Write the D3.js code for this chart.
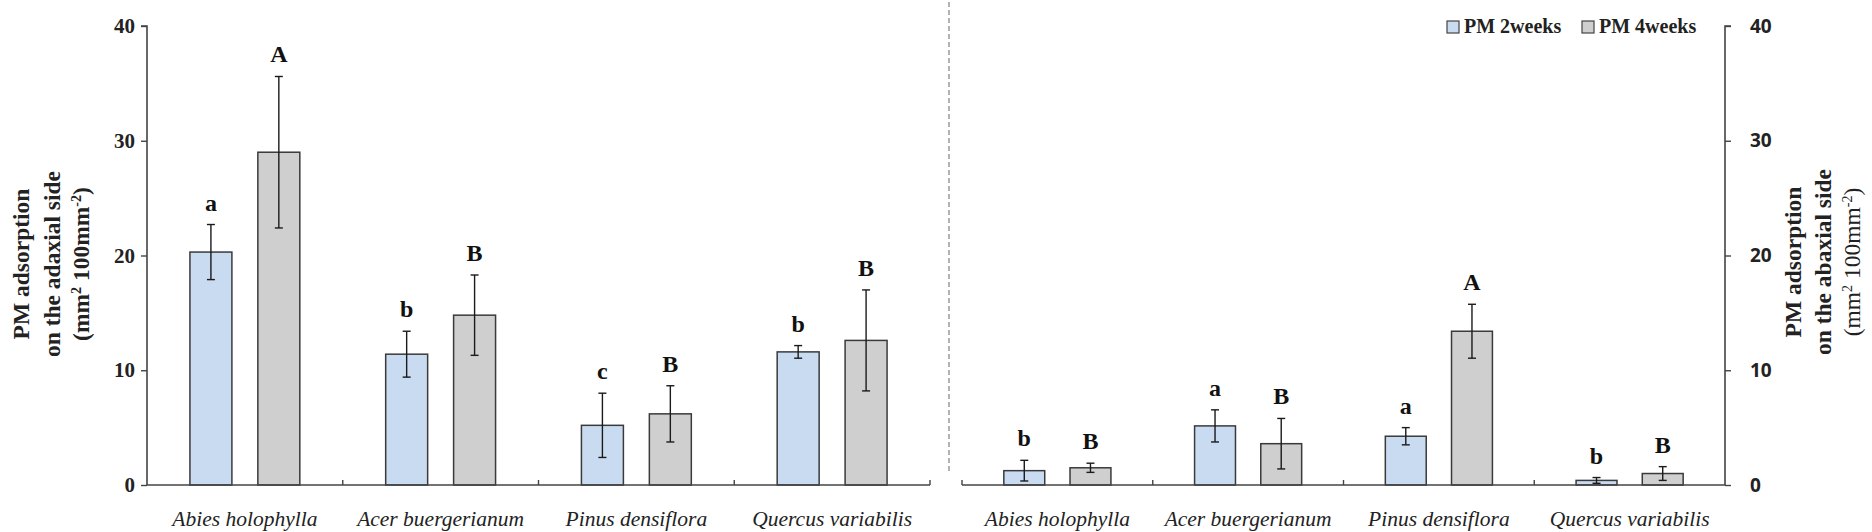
<!DOCTYPE html>
<html><head><meta charset="utf-8">
<script src="https://cdn.jsdelivr.net/npm/d3@7"></script>
<style>
html,body{margin:0;padding:0;background:#fff;}
svg{display:block;}
</style></head>
<body>
<svg id="chart" width="1872" height="532"></svg>
<script>
// ---- data ----
const categories = ["Abies holophylla", "Acer buergerianum", "Pinus densiflora", "Quercus variabilis"];
const seriesNames = ["PM 2weeks", "PM 4weeks"];
const yTicks = [0, 10, 20, 30, 40];

// adaxial side (left panel)
const adaxial2w = [20.3, 11.4, 5.2, 11.6];
const adaxial2wErr = [2.4, 2.0, 2.8, 0.55];
const adaxial4w = [29.0, 14.8, 6.2, 12.6];
const adaxial4wErr = [6.6, 3.5, 2.45, 4.4];
const adaxial2wLetters = ["a", "b", "c", "b"];
const adaxial4wLetters = ["A", "B", "B", "B"];

// abaxial side (right panel)
const abaxial2w = [1.25, 5.15, 4.25, 0.4];
const abaxial2wErr = [0.9, 1.4, 0.75, 0.25];
const abaxial4w = [1.5, 3.6, 13.4, 1.0];
const abaxial4wErr = [0.4, 2.2, 2.35, 0.6];
const abaxial2wLetters = ["b", "a", "a", "b"];
const abaxial4wLetters = ["B", "B", "A", "B"];

const colors = ["#c9dbf0", "#cfcfcf"];

// ---- drawing ----
const svg = d3.select("#chart");
const serif = "'Liberation Serif', 'Times New Roman', serif";
const sans = "'Open Sans', 'Liberation Sans', sans-serif";
const axisColor = "#444";

function panel(opts) {
  const g = svg.append("g");
  const x0 = d3.scaleBand().domain(categories).range(opts.xRange).paddingInner(0).paddingOuter(0);
  const x1 = d3.scaleBand().domain(seriesNames).range([0, x0.bandwidth()])
    .paddingInner(0.382).paddingOuter(0.632);
  const y = d3.scaleLinear().domain([0, 40]).range(opts.yRange);

  const rows = [];
  categories.forEach((c, i) => {
    rows.push({c, s: seriesNames[0], v: opts.v1[i], e: opts.e1[i], l: opts.l1[i], col: colors[0]});
    rows.push({c, s: seriesNames[1], v: opts.v2[i], e: opts.e2[i], l: opts.l2[i], col: colors[1]});
  });

  // bars
  g.selectAll("rect.bar").data(rows).join("rect")
    .attr("class", "bar")
    .attr("x", d => x0(d.c) + x1(d.s))
    .attr("width", x1.bandwidth())
    .attr("y", d => y(d.v))
    .attr("height", d => y(0) - y(d.v))
    .attr("fill", d => d.col)
    .attr("stroke", "#3a3a3a")
    .attr("stroke-width", 1.5);

  // error bars
  const cx = d => x0(d.c) + x1(d.s) + x1.bandwidth() / 2;
  const eg = g.selectAll("g.err").data(rows).join("g").attr("class", "err")
    .attr("stroke", "#1a1a1a").attr("stroke-width", 1.4);
  eg.append("line").attr("x1", cx).attr("x2", cx)
    .attr("y1", d => y(d.v + d.e)).attr("y2", d => y(Math.max(0, d.v - d.e)));
  eg.append("line").attr("x1", d => cx(d) - 4).attr("x2", d => cx(d) + 4)
    .attr("y1", d => y(d.v + d.e)).attr("y2", d => y(d.v + d.e));
  eg.append("line").attr("x1", d => cx(d) - 4).attr("x2", d => cx(d) + 4)
    .attr("y1", d => y(Math.max(0, d.v - d.e))).attr("y2", d => y(Math.max(0, d.v - d.e)));

  // significance letters
  g.selectAll("text.sig").data(rows).join("text")
    .attr("class", "sig")
    .attr("x", cx)
    .attr("y", d => y(d.v + d.e) - 14)
    .attr("text-anchor", "middle")
    .attr("font-family", serif).attr("font-weight", "bold").attr("font-size", 24)
    .attr("fill", "#111")
    .text(d => d.l);

  // x axis baseline + upward category boundary ticks
  const [xa, xb] = opts.xRange;
  g.append("line").attr("x1", xa).attr("x2", xb).attr("y1", y(0)).attr("y2", y(0))
    .attr("stroke", axisColor).attr("stroke-width", 1.6);
  const bounds = categories.map(c => x0(c)).concat([xb]).filter(b => opts.tickAt(b));
  g.selectAll("line.xt").data(bounds).join("line").attr("class", "xt")
    .attr("x1", d => d).attr("x2", d => d).attr("y1", y(0)).attr("y2", y(0) - 5)
    .attr("stroke", axisColor).attr("stroke-width", 1.4);

  // category labels
  g.selectAll("text.cat").data(categories).join("text").attr("class", "cat")
    .attr("x", d => x0(d) + x0.bandwidth() / 2)
    .attr("y", y(0) + 41)
    .attr("text-anchor", "middle")
    .attr("font-family", serif).attr("font-style", "italic").attr("font-size", 21.5)
    .attr("fill", "#222")
    .text(d => d);

  // y axis
  const ax = opts.side === "left" ? d3.axisLeft(y) : d3.axisRight(y);
  ax.tickValues(yTicks).tickSize(6).tickPadding(opts.side === "left" ? 6 : 19).tickFormat(d3.format("d"));
  const yg = g.append("g").attr("transform", `translate(${opts.side === "left" ? xa : xb},0)`).call(ax);
  yg.select(".domain").attr("stroke", axisColor).attr("stroke-width", 1.6)
    .attr("d", opts.side === "left" ? `M-6,${y(40)}H0V${y(0)}` : `M6,${y(40)}H0V${y(0)}`);
  yg.selectAll(".tick line").attr("stroke", axisColor).attr("stroke-width", 1.4);
  yg.selectAll(".tick text")
    .attr("font-family", opts.side === "left" ? serif : sans)
    .attr("font-weight", "bold").attr("font-size", opts.side === "left" ? 21 : 19)
    .attr("fill", "#222");

  // y title
  const t = g.append("g").attr("transform", `translate(0,${opts.titleY})`);
  opts.title.forEach((line, i) => {
    t.append("text")
      .attr("transform", `translate(${opts.titleX[i]},0) rotate(-90)`)
      .attr("text-anchor", "middle").attr("dy", "0.35em")
      .attr("font-family", serif).attr("font-weight", opts.titleWeights[i])
      .attr("font-size", 23.5).attr("fill", "#222")
      .html(line);
  });
  return {x0, x1, y};
}

const unitLine = "(mm<tspan dy='-8' font-size='14'>2</tspan><tspan dy='8'> 100mm</tspan><tspan dy='-8' font-size='14'>-2</tspan><tspan dy='8'>)</tspan>";

panel({
  xRange: [147, 930], yRange: [485, 26], side: "left",
  v1: adaxial2w, e1: adaxial2wErr, l1: adaxial2wLetters,
  v2: adaxial4w, e2: adaxial4wErr, l2: adaxial4wLetters,
  tickAt: b => b > 150,
  title: ["PM adsorption", "on the adaxial side", unitLine],
  titleWeights: ["bold", "bold", "bold"],
  titleX: [21, 52, 81], titleY: 264
});

panel({
  xRange: [962, 1725], yRange: [485, 26], side: "right",
  v1: abaxial2w, e1: abaxial2wErr, l1: abaxial2wLetters,
  v2: abaxial4w, e2: abaxial4wErr, l2: abaxial4wLetters,
  tickAt: b => b < 1720,
  title: ["PM adsorption", "on the abaxial side", unitLine],
  titleWeights: ["bold", "bold", "normal"],
  titleX: [1793, 1823, 1852], titleY: 262
});

// dashed separator
svg.append("line").attr("x1", 949).attr("x2", 949).attr("y1", 2).attr("y2", 472)
  .attr("stroke", "#8a8a8a").attr("stroke-width", 1.3).attr("stroke-dasharray", "5,3");

// legend
const legX = [1447, 1582];
const leg = svg.append("g");
seriesNames.forEach((s, i) => {
  leg.append("rect").attr("x", legX[i]).attr("y", 21).attr("width", 12).attr("height", 12)
    .attr("fill", colors[i]).attr("stroke", "#444").attr("stroke-width", 1.2);
  leg.append("text").attr("x", legX[i] + 17).attr("y", 33)
    .attr("font-family", serif).attr("font-weight", "bold").attr("font-size", 20)
    .attr("fill", "#222").text(s);
});
</script>
</body></html>
